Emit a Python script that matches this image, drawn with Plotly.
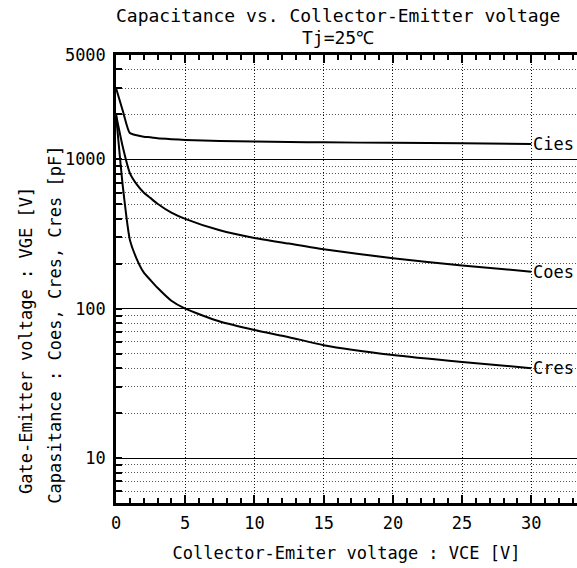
import math
import plotly.graph_objects as go

# ---- data ----
vce = [0, 0.5, 1, 1.5, 2, 2.5, 3, 4, 5, 7.5, 10, 12.5, 15, 20, 25, 30]
cies = [3000, 2100, 1500, 1450, 1420, 1405, 1385, 1365, 1350, 1330, 1315, 1308, 1300, 1290, 1280, 1270]
coes = [2000, 1200, 810, 680, 600, 550, 505, 440, 400, 335, 298, 273, 250, 218, 195, 177]
cres = [2000, 650, 290, 215, 175, 155, 138, 113, 100, 82, 72, 64.5, 57, 49, 44, 40]
series_names = ["Cies", "Coes", "Cres"]

x_ticks = [0, 5, 10, 15, 20, 25, 30]
y_major = [10, 100, 1000, 5000]
y_minor = [6, 7, 8, 9, 20, 30, 40, 50, 60, 70, 80, 90,
           200, 300, 400, 500, 600, 700, 800, 900, 2000, 3000, 4000]

title_lines = ["Capacitance vs. Collector-Emitter voltage", "Tj=25℃"]

FONT = "DejaVu Sans Mono"
DOTS = "1px,2px"

fig = go.Figure()
for name, vals in zip(series_names, [cies, coes, cres]):
    fig.add_trace(go.Scatter(x=vce, y=vals, mode="lines", name=name,
                             line=dict(color="black", width=2, shape="spline", smoothing=0.6),
                             showlegend=False))
    fig.add_annotation(x=vce[-1], y=math.log10(vals[-1]), text=name,
                       showarrow=False, xanchor="left", yanchor="middle", xshift=0,
                       font=dict(family=FONT, size=17, color="black"))

fig.update_xaxes(
    range=[0, 33.3], tickmode="array", tickvals=x_ticks,
    ticks="inside", ticklen=8, tickwidth=1.5, tickcolor="black",
    showline=True, linecolor="black", linewidth=2.5, mirror="ticks",
    showgrid=True, gridcolor="#111", griddash=DOTS, gridwidth=1.2,
    zeroline=False,
    tickfont=dict(family=FONT, size=17, color="black"),
    ticklabelstandoff=3,
    minor=dict(dtick=1, ticks="inside", ticklen=5, tickwidth=1.5, tickcolor="black", showgrid=False),
    title=dict(text="Collector-Emiter voltage : VCE [V]",
               font=dict(family=FONT, size=17, color="black"), standoff=15),
)
fig.update_yaxes(
    type="log", range=[0.69897, 3.69897],
    tickmode="array", tickvals=y_major, ticktext=[str(v) for v in y_major],
    ticks="inside", ticklen=6, tickwidth=1.5, tickcolor="black",
    showline=True, linecolor="black", linewidth=2.5,
    showgrid=True, gridcolor="black", gridwidth=1.3,
    zeroline=False,
    tickfont=dict(family=FONT, size=17, color="black"),
    ticklabelstandoff=4,
    minor=dict(tickmode="array", tickvals=y_minor, ticks="inside", ticklen=6,
               tickwidth=1.5, tickcolor="black",
               showgrid=True, gridcolor="#555", griddash=DOTS, gridwidth=1),
)

fig.add_annotation(xref="paper", yref="paper", x=-0.195, y=0.362,
                   text="Gate-Emitter voltage : VGE [V]", textangle=-90, showarrow=False,
                   xanchor="center", yanchor="middle",
                   font=dict(family=FONT, size=17, color="black"))
fig.add_annotation(xref="paper", yref="paper", x=-0.131, y=0.397,
                   text="Capasitance : Coes, Cres, Cres [pF]", textangle=-90, showarrow=False,
                   xanchor="center", yanchor="middle",
                   font=dict(family=FONT, size=17, color="black"))

for line_text, ypos in zip(title_lines, [1.089, 1.038]):
    fig.add_annotation(xref="paper", yref="paper", x=0.4816, y=ypos, text=line_text,
                       showarrow=False, xanchor="center", yanchor="middle",
                       font=dict(family=FONT, size=18, color="black"))

fig.update_layout(
    width=577, height=568,
    margin=dict(l=116, r=0, t=55, b=65),
    paper_bgcolor="white", plot_bgcolor="white",
)

fig.write_html("out.html", config={"displayModeBar": False},
               post_script="document.body.style.margin='0px';document.body.style.overflow='hidden';")
